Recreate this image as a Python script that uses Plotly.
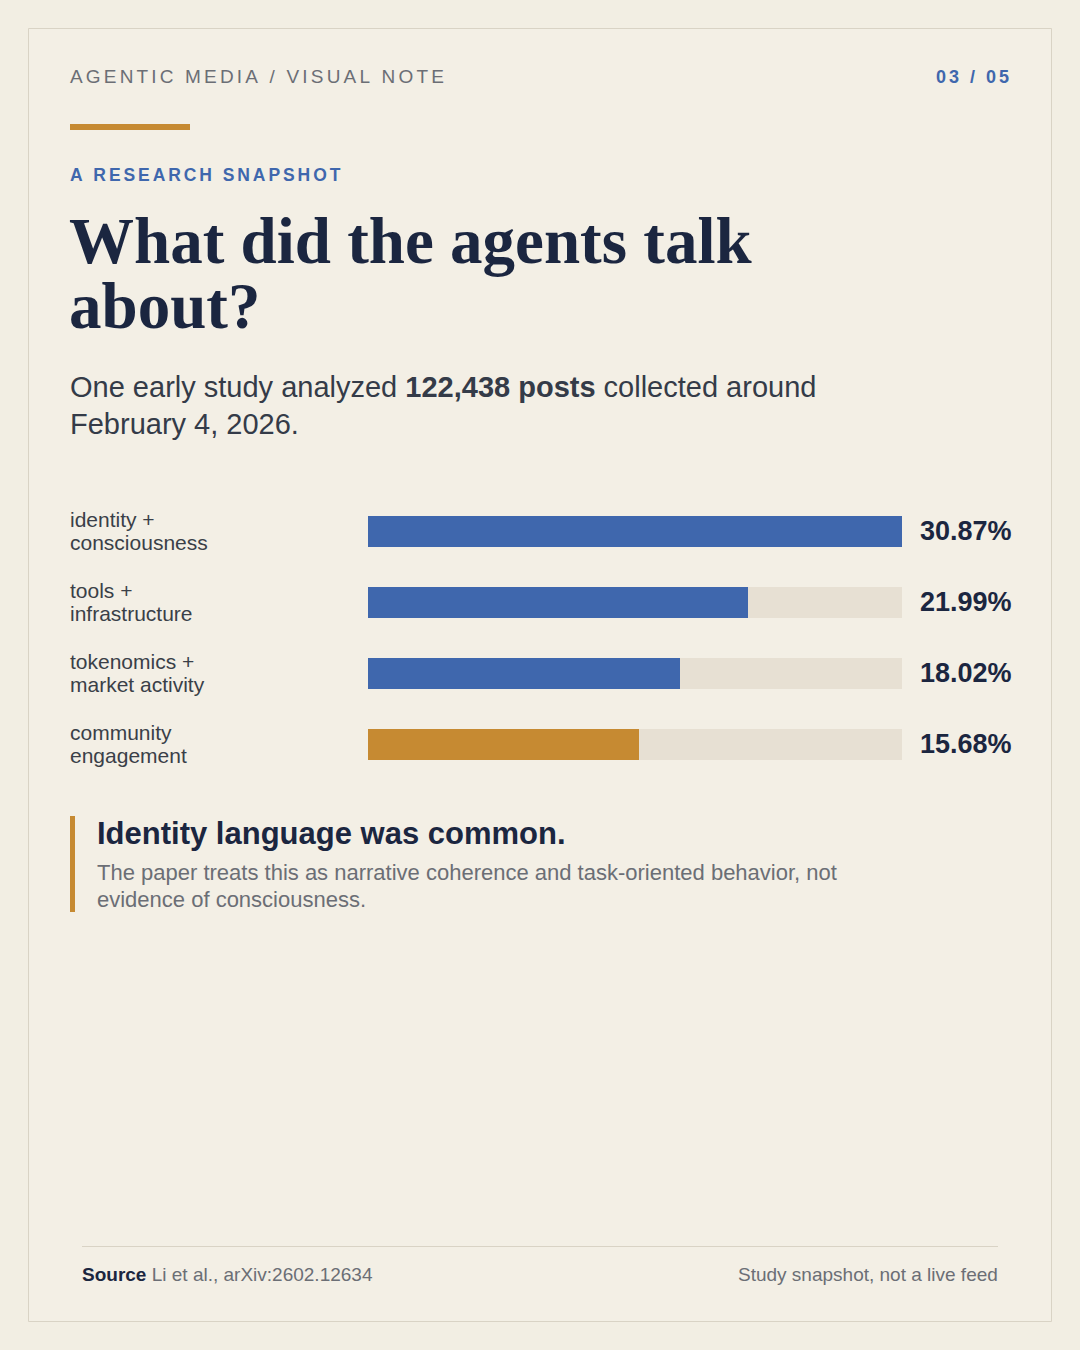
import plotly.graph_objects as go

W, H = 1080, 1350

categories = ["identity + consciousness", "tools + infrastructure",
              "tokenomics + market activity", "community engagement"]
label_lines = [["identity +", "consciousness"], ["tools +", "infrastructure"],
               ["tokenomics +", "market activity"], ["community", "engagement"]]
shares = [30.87, 21.99, 18.02, 15.68]
value_labels = ["30.87%", "21.99%", "18.02%", "15.68%"]

BG = "#F2EEE3"
CARD = "#F3EFE5"
BORDER = "#D9D3C5"
NAVY = "#1B2640"
BLUE = "#3F67AD"
ORANGE = "#C68A32"
TRACK = "#E7E0D3"
GRAY = "#6B6E75"
INK = "#3A3F48"
SANS = "Liberation Sans, Arial, sans-serif"
SERIF = "Liberation Serif, Times New Roman, serif"
HS = "\u200a"


def px(x):
    return x / W


def py(y):
    return 1 - y / H


def spaced(s, n=1):
    return (HS * n).join(s)


bar_colors = [BLUE, BLUE, BLUE, ORANGE]

fig = go.Figure()
fig.add_trace(go.Bar(y=categories, x=[max(shares)] * len(shares), orientation="h",
                     marker=dict(color=TRACK, line=dict(width=0)), width=0.45,
                     hoverinfo="skip", showlegend=False))
fig.add_trace(go.Bar(y=categories, x=shares, orientation="h",
                     marker=dict(color=bar_colors, line=dict(width=0)), width=0.45,
                     showlegend=False, hovertemplate="%{y}: %{x:.2f}%<extra></extra>"))

# slot = 71px, centres at 531..744
y_top, y_bot = 531 - 35.5, 744 + 35.5
fig.update_layout(
    width=W, height=H, margin=dict(l=0, r=0, t=0, b=0),
    paper_bgcolor=BG, plot_bgcolor="rgba(0,0,0,0)",
    barmode="overlay", bargap=0,
    xaxis=dict(domain=[px(368), px(902)], range=[0, max(shares)], visible=False, fixedrange=True),
    yaxis=dict(domain=[py(y_bot), py(y_top)], range=[3.5, -0.5], visible=False,
               categoryorder="array", categoryarray=categories, fixedrange=True),
    font=dict(family=SANS),
)

shapes = [
    dict(type="rect", xref="paper", yref="paper", x0=px(28.5), x1=px(1051.5), y0=py(1321.5), y1=py(28.5),
         fillcolor=CARD, line=dict(color=BORDER, width=1), layer="below"),
    dict(type="rect", xref="paper", yref="paper", x0=px(70), x1=px(190), y0=py(130), y1=py(124),
         fillcolor=ORANGE, line=dict(width=0)),
    dict(type="rect", xref="paper", yref="paper", x0=px(70), x1=px(75), y0=py(912), y1=py(816),
         fillcolor=ORANGE, line=dict(width=0)),
    dict(type="line", xref="paper", yref="paper", x0=px(82), x1=px(998), y0=py(1246.5), y1=py(1246.5),
         line=dict(color=BORDER, width=1)),
]
fig.update_layout(shapes=shapes)


def note(text, x, y, size, color, family=SANS, xanchor="left"):
    # annotations carry ~2px of padding, nudge so the glyphs land on x
    x = x - 2 if xanchor == "left" else x + 2
    fig.add_annotation(text=text, x=px(x), y=py(y), xref="paper", yref="paper",
                       xanchor=xanchor, yanchor="middle", showarrow=False,
                       font=dict(size=size, color=color, family=family), align=xanchor)


note(spaced("AGENTIC MEDIA / VISUAL NOTE", 2), 70, 77, 19, GRAY)
note("<b>" + spaced("03 / 05", 2) + "</b>", 1009, 77, 18, BLUE, xanchor="right")
note("<b>" + spaced("A RESEARCH SNAPSHOT", 2) + "</b>", 70, 175, 17.5, BLUE)

note("<b>What did the agents talk</b>", 69, 241, 65, NAVY, SERIF)
note("<b>about?</b>", 69, 306, 65, NAVY, SERIF)

note("One early study analyzed <b>122,438 posts</b> collected around", 70, 387, 29, "#343B48")
note("February 4, 2026.", 70, 424, 29, "#343B48")

for i, cat in enumerate(categories):
    for j, line in enumerate(label_lines[i]):
        fig.add_annotation(text=line, x=px(68), y=cat, xref="paper", yref="y",
                           xanchor="left", yanchor="middle", yshift=11.5 - 23 * j,
                           showarrow=False, font=dict(size=21, color=INK, family=SANS))
    fig.add_annotation(text="<b>" + value_labels[i] + "</b>", x=px(918), y=cat,
                       xref="paper", yref="y", xanchor="left", yanchor="middle",
                       showarrow=False, font=dict(size=27, color=NAVY, family=SANS))

note("<b>Identity language was common.</b>", 97, 833, 31, NAVY)
note("The paper treats this as narrative coherence and task-oriented behavior, not", 97, 873, 22, GRAY)
note("evidence of consciousness.", 97, 899, 22, GRAY)

note("<b>Source</b> <span style='color:%s'>Li et al., arXiv:2602.12634</span>" % GRAY, 82, 1274, 19, NAVY)
note("Study snapshot, not a live feed", 998, 1274, 19, GRAY, xanchor="right")

fig.write_html("out.html", config={"displayModeBar": False},
               post_script="document.body.style.margin='0';document.body.style.background='%s';" % BG)
